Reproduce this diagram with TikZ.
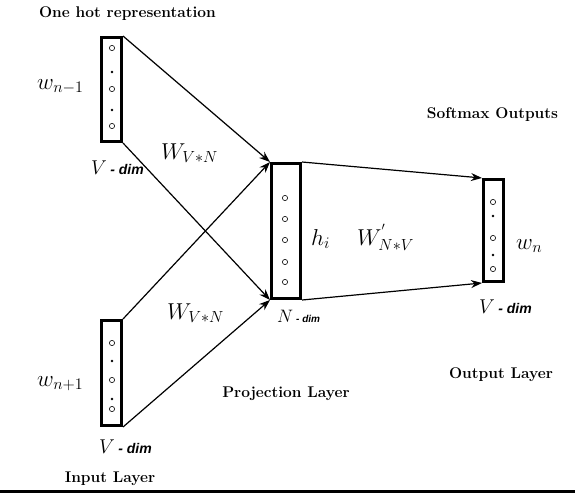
\RequirePackage{fix-cm}
\documentclass[tikz,border=0pt]{standalone}
\usepackage{fontspec}
\usetikzlibrary{arrows.meta}
\newfontfamily\dimfont{Liberation Sans}
\newcommand{\dimtxt}[1]{{\dimfont\bfseries\itshape #1}}
\begin{document}
\begin{tikzpicture}[x=1pt,y=-1pt,
  vbox/.style={draw, line width=2.6pt, inner sep=0pt},
  conn/.style={line width=1.2pt, -{Stealth[length=11pt,width=8pt]}},
  lay/.style={font=\fontsize{15.5}{18}\selectfont\bfseries, anchor=base, inner sep=0pt},
  mlab/.style={font=\fontsize{23}{27}\selectfont, inner sep=0pt, anchor=base west},
  vlab/.style={font=\fontsize{20}{24}\selectfont, inner sep=0pt, anchor=base west},
  nlab/.style={font=\fontsize{18}{22}\selectfont, inner sep=0pt, anchor=base west},
]
\useasboundingbox (0,0) rectangle (575,493);

% boxes
\node[vbox, minimum width=20.4pt, minimum height=104.4pt] (b1) at (111.5,89.5) {};
\node[vbox, minimum width=20.4pt, minimum height=105.4pt] (b2) at (111.5,373) {};
\node[vbox, minimum width=29.4pt, minimum height=135.4pt] (b3) at (286,231) {};
\node[vbox, minimum width=20.4pt, minimum height=102.4pt] (b4) at (493.5,230.5) {};

% units
\foreach \y in {48,89,126} \draw[line width=0.6pt] (112,\y) circle (2.6pt);
\foreach \y in {72,110} \fill (112,\y) circle (1.3pt);
\foreach \y in {343,380,409} \draw[line width=0.6pt] (112,\y) circle (2.6pt);
\foreach \y in {361,399} \fill (112,\y) circle (1.3pt);
\foreach \y in {198,219,240,262,282} \draw[line width=0.6pt] (285,\y) circle (2.6pt);
\foreach \y in {202,238,269} \draw[line width=0.6pt] (493,\y) circle (2.6pt);
\foreach \y in {216,255} \fill (493,\y) circle (1.3pt);

% connectors
\draw[conn] (b1.north east) -- (b3.north west);
\draw[conn] (b1.south east) -- (b3.south west);
\draw[conn] (b2.north east) -- (b3.north west);
\draw[conn] (b2.south east) -- (b3.south west);
\draw[conn] (b3.north east) -- (b4.north west);
\draw[conn] (b3.south east) -- (b4.south west);

% layer titles
\node[lay] (t1) at (127.5,17) {One hot representation};
\node[lay] (t2) at (492.5,118) {Softmax Outputs};
\node[lay] (t3) at (501,378) {Output Layer};
\node[lay] (t4) at (286,397) {Projection Layer};
\node[lay] (t5) at (110,482) {Input Layer};

% math labels
\node[mlab] (l1) at (37,89) {$w_{n-1}$};
\node[mlab] (l2) at (161,159) {$W_{V*N}$};
\node[vlab] (l3) at (91,174) {$V$\,\fontsize{14}{16}\selectfont\dimtxt{- dim}};
\node[mlab] (l4) at (311,245) {$h_i$};
\node[mlab] (l5) at (357,245) {$W^{'}_{N*V}$};
\node[mlab] (l6) at (516,249) {$w_n$};
\node[vlab] (l7) at (479,313) {$V$\,\fontsize{14}{16}\selectfont\dimtxt{- dim}};
\node[nlab] (l8) at (277,322) {$N$\,\fontsize{10}{12}\selectfont\dimtxt{- dim}};
\node[mlab] (l9) at (167,319) {$W_{V*N}$};
\node[mlab] (l10) at (37,386) {$w_{n+1}$};
\node[vlab] (l11) at (99,453) {$V$\,\fontsize{14}{16}\selectfont\dimtxt{- dim}};

% bottom rule
\coordinate (rl) at (0,491.5);
\coordinate (rr) at (575,491.5);
\draw[line width=2.5pt] (rl) -- (rr);
\end{tikzpicture}
\end{document}
